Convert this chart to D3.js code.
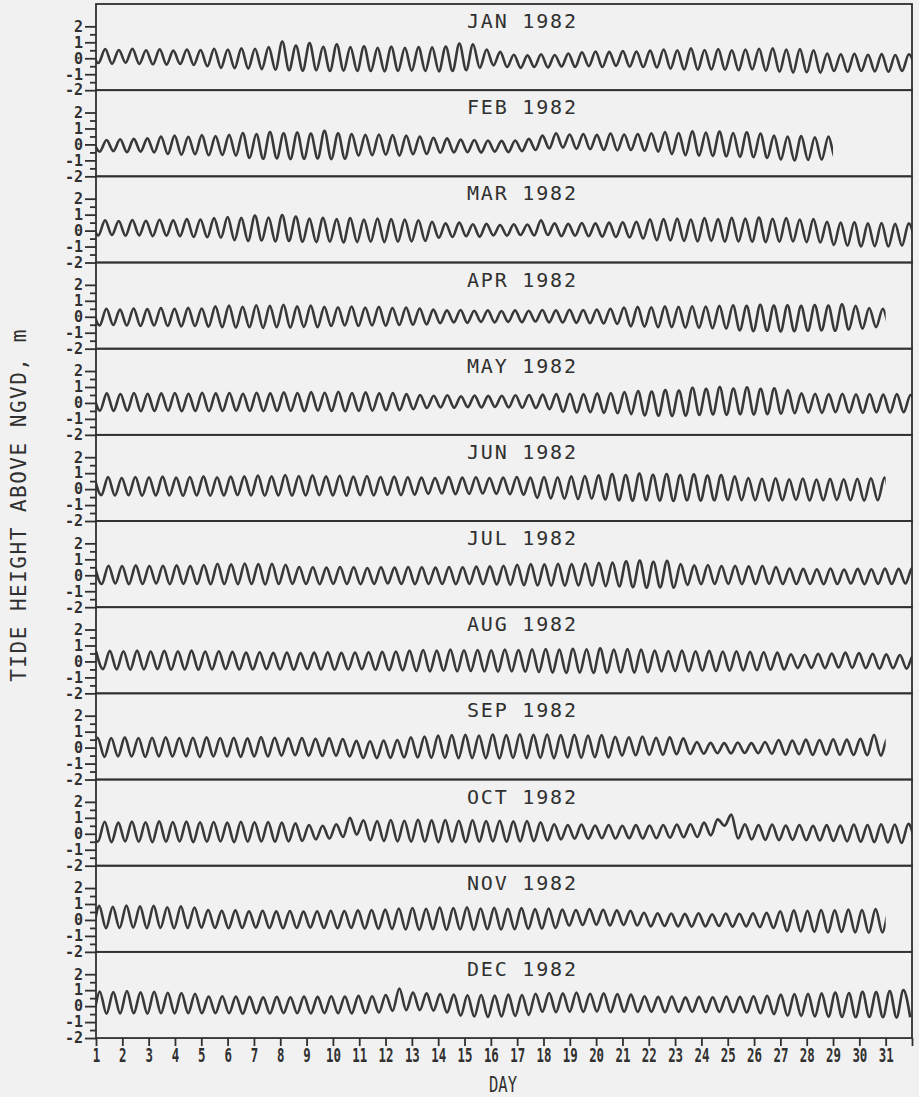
<!DOCTYPE html>
<html><head><meta charset="utf-8">
<script src="https://cdn.jsdelivr.net/npm/d3@7"></script>
<style>body{margin:0;background:#f1f1f1}</style>
</head><body><svg id="c" width="919" height="1097"></svg>
<script>
// ---- data (tide extremes in cm, alternating high, low) ----
const monthNames = ["JAN 1982","FEB 1982","MAR 1982","APR 1982","MAY 1982","JUN 1982","JUL 1982","AUG 1982","SEP 1982","OCT 1982","NOV 1982","DEC 1982"];
const monthLengths = [31,28,31,30,31,30,31,31,30,31,30,31];
const firstHighDay = [1.35,1.40,1.345,1.395,1.41,1.46,1.475,1.525,1.06,1.33,1.12,1.14];
const yTickValues = [-2,-1,0,1,2];
const yMinorTicks = [-1.5,-0.5,0.5,1.5];
const dayTicks = [1,2,3,4,5,6,7,8,9,10,11,12,13,14,15,16,17,18,19,20,21,22,23,24,25,26,27,28,29,30,31,32];

const jan = [55,-30,58,-35,52,-28,60,-35, 50,-38,56,-40,48,-36,55,-42, 52,-50,60,-60,55,-62,62,-65, 60,-68,70,-72, 105,-75,80,-78, 95,-75,72,-80,88,-78,70,-80, 75,-80,65,-82,72,-80,66,-78,70,-80,68,-82,74,-80, 92,-75,88,-60, 55,-45,40,-55, 22,-60,18,-55,25,-58,20,-52,30,-55, 38,-50,42,-55,40,-48,45,-52,42,-55,48,-58, 55,-65,50,-70,62,-72,52,-70,58,-72,50,-75,55,-70,60,-78, 62,-85,55,-90,58,-88,50,-90, 30,-80,25,-85,28,-80,22,-82,26,-85,20,-80,25,-78];
const feb = [30,-45,28,-42,32,-48,35,-45,38,-50, 50,-60,55,-65,48,-62,58,-68,52,-66,60,-70, 72,-85,65,-90,78,-88,70,-92,75,-90,68,-88,85,-92,70,-90, 65,-70,60,-68,62,-65,58,-70,55,-62,50,-60, 42,-52,38,-50,30,-48,28,-50,25,-45,22,-48,25,-42, 35,-35,55,-25, 70,-20,62,-28,65,-30,60,-35,68,-38,62,-35,65,-40,70,-45, 78,-60,72,-68,82,-70,75,-72,80,-75,72,-78,76,-80,68,-85, 55,-95,50,-100,52,-98,45,-95,50,-90,55,-80];
const mar = [62,-30,65,-28,60,-32,66,-30,62,-35,68,-32,64,-35, 72,-40,70,-42,78,-45, 85,-60,80,-65,95,-62,82,-68,98,-65, 88,-70,75,-72,80,-70,72,-75,78,-72,70,-70,76,-72,72,-70,70,-68,65,-65, 55,-45,45,-40,50,-35,40,-38,42,-30,35,-32,40,-28,38,-30, 65,-28, 45,-35,42,-32,48,-35,45,-38,50,-40,52,-42,55,-50, 70,-60,72,-62,75,-65,70,-68,78,-65,72,-70,80,-68,75,-70,82,-72,74,-70,78,-68,70,-72,72,-75, 55,-90,50,-95,52,-100,45,-98,48,-100,42,-95,45,-90];
const apr = [48,-55,50,-52,45,-55,52,-58,48,-55,55,-58,50,-60,56,-58,52,-62, 65,-65,70,-68,62,-66,72,-70,68,-66,75,-68,65,-64,70,-65, 62,-58,60,-55,64,-58,58,-55,62,-56,55,-52,58,-50,52,-48, 45,-40,40,-35,42,-38,38,-32,40,-35,36,-32,40,-34,38,-30,42,-35,40,-36,44,-38,42,-40,46,-42,50,-45, 58,-60,62,-62,60,-66,65,-65,62,-68,66,-70,64,-72,68,-75, 72,-85,68,-90,75,-88,70,-92,72,-90,68,-88,74,-85,70,-88,78,-80,68,-75, 55,-65,50,-62,48,-60];
const may = [58,-48,60,-50,56,-48,62,-52,58,-50,60,-48,62,-52,58,-50,64,-52,60,-50,62,-48,58,-50,64,-52,60,-50, 66,-50,62,-52,68,-48,64,-50,70,-52,62,-50,66,-48,60,-46,62,-45,55,-40, 50,-32,45,-28,48,-30,42,-26,46,-28,44,-25,45,-28,48,-30,50,-32,52,-40, 55,-55,58,-60,55,-58,60,-62,62,-65,68,-70, 75,-78,72,-80,80,-82,78,-80, 95,-75,88,-72,100,-75,90,-70,98,-72,88,-70,92,-68,80,-65, 60,-60,58,-62,55,-58,58,-60,54,-62,56,-58,52,-60,55,-58,50,-55];
const jun = [72,-38,75,-40,70,-38,76,-42,74,-40,78,-40,72,-42,76,-40,80,-42,74,-40,78,-38,80,-40, 85,-42,80,-40,88,-42,82,-40,86,-38,80,-40,84,-42,78,-38,82,-40,76,-36,78,-38,74,-35, 72,-30,70,-28,75,-32,72,-30,74,-28,70,-30,72,-32,76,-35, 72,-55,76,-58,74,-60,80,-62,82,-60,86,-65, 95,-70,88,-72,98,-70,90,-72,95,-75,88,-70,92,-72,85,-70,88,-68,80,-70, 70,-70,65,-72,68,-70,62,-68,66,-72,60,-70,64,-68,62,-70,65,-72,68,-70,72,-68,60,-65];
const jul = [55,-55,60,-52,58,-56,62,-55,58,-52,60,-56,62,-54,58,-55,64,-56, 72,-55,68,-56,74,-55,70,-58,72,-55,66,-54, 52,-55,50,-56,48,-54,52,-55,50,-56,46,-54,50,-52,48,-55,52,-56,50,-54,48,-55,52,-56,50,-54,54,-56,56,-58,60,-60, 66,-62,70,-64,68,-65,72,-66,70,-64,74,-66,78,-68,80,-70, 88,-75,92,-78,85,-76,90,-78, 70,-60,62,-56,64,-55,58,-54,60,-56,56,-55,58,-54,52,-55, 42,-55,40,-54,38,-56,42,-55,36,-52,40,-56,38,-54,42,-55,40,-52,45,-55];
const aug = [62,-48,66,-50,64,-52,68,-50,62,-48,66,-52,64,-50,68,-52,62,-50,64,-48,60,-50, 55,-50,58,-48,54,-50,56,-52,52,-48,55,-50,58,-52,54,-50,56,-48,58,-52,60,-55,62,-56, 68,-60,72,-62,68,-58,74,-62,70,-60,72,-62,70,-64,75,-62,72,-65,76,-66, 78,-70,74,-72,80,-70,76,-72,82,-70,75,-68,78,-70,74,-68, 68,-62,65,-60,68,-62,64,-58,66,-60,62,-58,64,-56,60,-55,58,-52,55,-50, 45,-42,42,-40,48,-42,50,-38,55,-40,52,-42,48,-45,44,-42,40,-45,42,-48];
const sep = [58,-55,62,-58,60,-55,64,-56,60,-58,62,-55,65,-56,60,-55,62,-58,64,-55,60,-56,62,-58,58,-55,66,-56, 62,-50,58,-48,60,-50,56,-52,58,-50,54,-55, 42,-65,40,-66,45,-64,48,-62, 65,-62,70,-64,75,-65,78,-66,80,-65,76,-66,82,-68,78,-65,84,-66,80,-64,82,-66,78,-62,80,-64,76,-60,78,-62, 68,-50,65,-48,70,-45,62,-45,64,-42,58,-40, 35,-38,30,-35,28,-36,32,-34,28,-35,35,-38, 48,-45,45,-42,50,-46,48,-44,52,-45,50,-46,55,-48,80,-50,60,-40];
const oct = [72,-50,75,-52,70,-48,76,-50,72,-52,78,-50,74,-48,76,-52,72,-50,74,-48,70,-52,75,-50,72,-48,74,-50,70,-48,65,-45, 55,-35,50,-30,60,-20, 100,-5, 85,-40,80,-45,86,-48,82,-50,88,-50,84,-52,86,-50,82,-52,85,-50,80,-48,82,-50,78,-48,80,-46,72,-42, 60,-35,55,-30,58,-32,52,-28,55,-30,50,-28,54,-30,52,-28,55,-25,58,-22,60,-20,70,-10, 90,50,120,-30, 60,-35,55,-38,58,-40,52,-38,55,-40,50,-42,54,-45,52,-48,58,-50,55,-52,60,-55,58,-58,62,-60];
const nov = [80,-50,88,-52,82,-50,90,-48,85,-52,88,-50,80,-52,85,-50,78,-48, 62,-50,58,-52,60,-50,55,-48,58,-50,54,-52,56,-50,52,-48,55,-50,58,-52,56,-50,60,-54,62,-55,65,-56, 72,-60,75,-62,70,-58,78,-62,74,-60,80,-62,72,-58,76,-60,70,-58,74,-56,68,-55,72,-50, 65,-35,62,-32,68,-30,64,-35,60,-32,58,-35, 45,-40,42,-38,40,-40,38,-42,42,-40,36,-38,40,-42,38,-40,42,-45,45,-50, 55,-70,60,-72,58,-75,62,-78,60,-75,65,-78,62,-80,68,-78,58,-75];
const dec = [85,-45,92,-48,88,-46,95,-45,86,-48,90,-45,84,-46,82,-44,78,-45, 60,-44,62,-45,60,-48,58,-45,55,-46,58,-44,56,-45,60,-46,58,-44,62,-45,60,-46,64,-44,62,-40, 70,-30,110,-25, 85,-25,80,-28,75,-40, 72,-60,68,-65,70,-68,66,-65,72,-62,70,-55, 78,-35,82,-38,80,-35,85,-36,78,-34,80,-38,76,-35,72,-36, 62,-35,58,-38,60,-36,55,-35,58,-38,56,-36,60,-38,58,-40,62,-45,65,-50, 72,-60,75,-62,78,-65,80,-66,85,-68,82,-70,90,-68,88,-70,95,-72,100,-70];
const series = [jan,feb,mar,apr,may,jun,jul,aug,sep,oct,nov,dec];
const TIDE_PERIOD = 0.5175; // days between successive high waters

// ---- layout ----
const W = 919, H = 1097;
const left = 96, right = 912, top0 = 4, panelH = 86.17;
const ink = "#303030";
const svg = d3.select("#c");
svg.append("rect").attr("width", W).attr("height", H).attr("fill", "#f1f1f1");

const x = d3.scaleLinear().domain([1, 32]).range([left, right]);
const line = d3.line().curve(d3.curveMonotoneX);
const defs = svg.append("defs");

series.forEach((vals, k) => {
  const top = top0 + k * panelH;
  const y = d3.scaleLinear().domain([-2, 3.4]).range([top + panelH, top]);
  const g = svg.append("g");

  defs.append("clipPath").attr("id", "clip" + k)
    .append("rect").attr("x", x(1)).attr("y", top)
    .attr("width", x(1 + monthLengths[k]) - x(1)).attr("height", panelH);

  const t0 = firstHighDay[k] - TIDE_PERIOD;
  const pts = vals.map((v, j) => [t0 + j * TIDE_PERIOD / 2, v / 100]);
  g.append("path")
    .attr("clip-path", "url(#clip" + k + ")")
    .attr("d", line.x(d => x(d[0])).y(d => y(d[1]))(pts))
    .attr("fill", "none").attr("stroke", "#383838")
    .attr("stroke-width", 2.6).attr("stroke-linejoin", "round");

  g.append("rect").attr("x", left).attr("y", top)
    .attr("width", right - left).attr("height", panelH)
    .attr("fill", "none").attr("stroke", ink).attr("stroke-width", 1.8);

  g.append("text").attr("x", 467).attr("y", top + 24)
    .attr("font-family", "DejaVu Sans Mono").attr("font-size", 20)
    .attr("letter-spacing", 1.8).attr("fill", ink).text(monthNames[k]);

  // y axis
  const ay = g.append("g").attr("transform", `translate(${left},0)`)
    .call(d3.axisLeft(y).tickValues(yTickValues).tickSize(11).tickPadding(2).tickFormat(d => String(d)));
  ay.select(".domain").remove();
  ay.selectAll("line").attr("stroke", ink).attr("stroke-width", 1.8);
  ay.selectAll("text").attr("font-family", "DejaVu Sans Mono").attr("font-weight", "bold")
    .attr("font-size", 15).attr("fill", ink);
  const am = g.append("g").attr("transform", `translate(${left},0)`)
    .call(d3.axisLeft(y).tickValues(yMinorTicks).tickSize(6).tickFormat(""));
  am.select(".domain").remove();
  am.selectAll("line").attr("stroke", ink).attr("stroke-width", 1.8);
});

// x axis
const bottom = top0 + 12 * panelH;
const ax = svg.append("g").attr("transform", `translate(0,${bottom})`)
  .call(d3.axisBottom(x).tickValues(dayTicks).tickSize(8).tickPadding(2).tickFormat(d => d <= 31 ? String(d) : ""));
ax.select(".domain").remove();
ax.selectAll("line").attr("stroke", ink).attr("stroke-width", 1.8);
ax.selectAll("text").attr("font-family", "DejaVu Sans Mono").attr("font-weight", "bold")
  .attr("font-size", 20).attr("fill", ink)
  .attr("transform", "scale(0.62,1)");

svg.append("text").attr("x", 503).attr("y", 1092).attr("text-anchor", "middle")
  .attr("font-family", "DejaVu Sans Mono").attr("font-size", 21)
  .attr("textLength", 28).attr("lengthAdjust", "spacingAndGlyphs")
  .attr("fill", ink).text("DAY");

svg.append("text").attr("transform", "translate(26,505) rotate(-90)")
  .attr("text-anchor", "middle")
  .attr("font-family", "DejaVu Sans Mono").attr("font-size", 21)
  .attr("letter-spacing", 1.5).attr("fill", ink)
  .text("TIDE HEIGHT ABOVE NGVD, m");
</script></body></html>
